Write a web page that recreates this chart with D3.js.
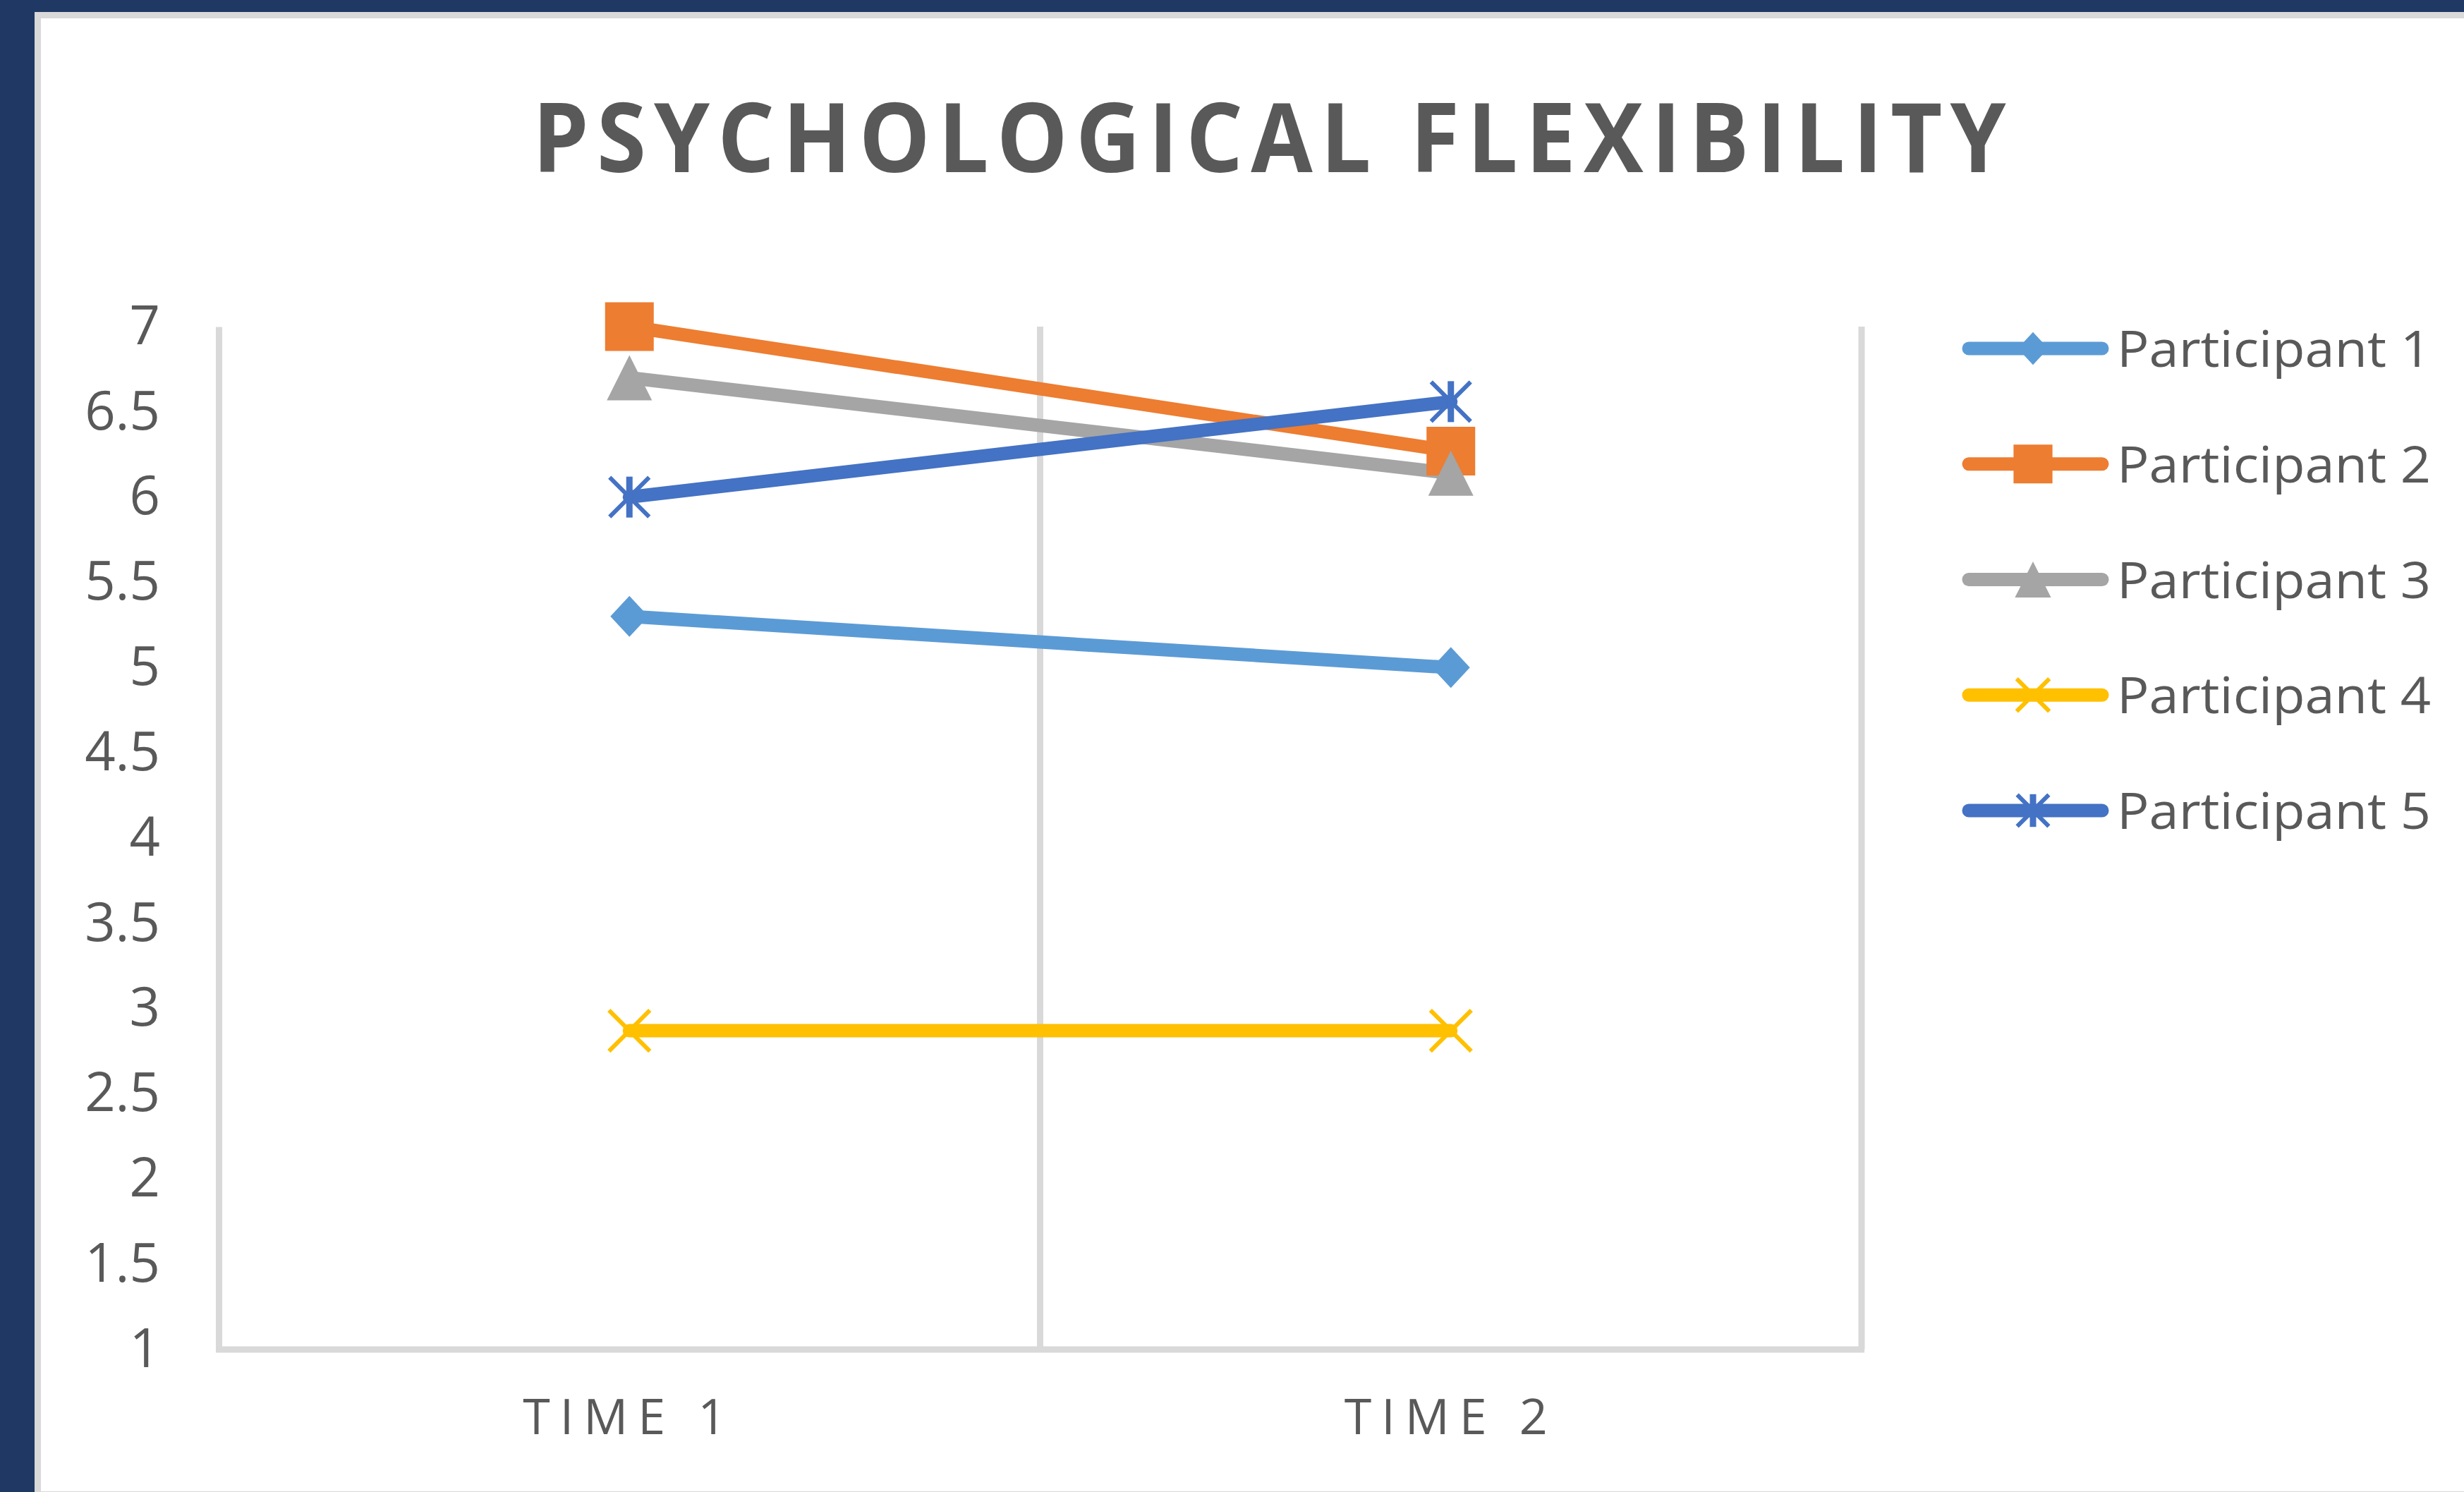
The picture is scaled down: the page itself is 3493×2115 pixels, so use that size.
<!DOCTYPE html>
<html>
<head>
<meta charset="utf-8">
<script src="https://cdn.jsdelivr.net/npm/d3@7"></script>
<style>
  html, body { margin: 0; padding: 0; background: #1f3864; overflow: hidden; }
  text { font-family: "Open Sans", "DejaVu Sans", sans-serif; fill: #595959; }
</style>
</head>
<body>
<svg id="chart" width="3493" height="2115"></svg>
<script>
// chart values
const times = ["TIME 1", "TIME 2"];
const participants = ["Participant 1", "Participant 2", "Participant 3", "Participant 4", "Participant 5"];
const p1 = [5.3, 5.0];
const p2 = [7.0, 6.27];
const p3 = [6.7, 6.14];
const p4 = [2.87, 2.87];
const p5 = [6.0, 6.56];
const yTicks = [1, 1.5, 2, 2.5, 3, 3.5, 4, 4.5, 5, 5.5, 6, 6.5, 7];
const colors = ["#5b9bd5", "#ed7d31", "#a5a5a5", "#ffc000", "#4472c4"];
const shapes = ["diamond", "square", "triangle", "x", "star"];

const series = participants.map((name, i) => ({
  name: name,
  color: colors[i],
  shape: shapes[i],
  values: [p1, p2, p3, p4, p5][i].map((v, j) => ({ time: times[j], value: v }))
}));

const svg = d3.select("#chart");
const grid = "#d9d9d9";

// card with grey border
svg.append("rect")
  .attr("x", 53.5).attr("y", 21.5)
  .attr("width", 3500).attr("height", 2097)
  .attr("fill", "#ffffff")
  .attr("stroke", grid).attr("stroke-width", 9);

// title
svg.append("text")
  .attr("x", 1805).attr("y", 244)
  .attr("text-anchor", "middle")
  .attr("font-size", 136)
  .attr("font-weight", "bold")
  .attr("letter-spacing", 12)
  .attr("textLength", 2100)
  .attr("lengthAdjust", "spacingAndGlyphs")
  .text("PSYCHOLOGICAL FLEXIBILITY");

// scales
const plotLeft = 310, plotTop = 463, plotBottom = 1913;
const x = d3.scaleBand().domain(times).range([plotLeft, 2639]).padding(0);
const y = d3.scaleLinear().domain([1, 7]).range([plotBottom, plotTop]);
const cx = d => x(d) + x.bandwidth() / 2;

// vertical gridlines at category boundaries
const gx = times.slice(1).map(t => x(t)).concat([x.range()[1]]);
svg.append("g").selectAll("line")
  .data(gx).join("line")
  .attr("x1", d => d).attr("x2", d => d)
  .attr("y1", plotTop).attr("y2", plotBottom)
  .attr("stroke", grid).attr("stroke-width", 9);

// bottom axis line
svg.append("line")
  .attr("x1", plotLeft - 4).attr("x2", x.range()[1] + 4)
  .attr("y1", plotBottom).attr("y2", plotBottom)
  .attr("stroke", grid).attr("stroke-width", 9);

// y axis
const yAxis = svg.append("g")
  .attr("transform", `translate(${plotLeft},0)`)
  .call(d3.axisLeft(y).tickValues(yTicks).tickSize(0).tickSizeOuter(0).tickPadding(83)
        .tickFormat(d => String(d)));
yAxis.select(".domain").attr("stroke", grid).attr("stroke-width", 9);
yAxis.selectAll("text")
  .attr("font-size", 76)
  .attr("font-family", "Open Sans")
  .attr("fill", "#595959");

// x labels
svg.append("g").selectAll("text")
  .data(times).join("text")
  .attr("x", d => cx(d))
  .attr("y", 2033)
  .attr("text-anchor", "middle")
  .attr("font-size", 70)
  .attr("letter-spacing", 14)
  .text(d => d);

// marker shapes
function marker(sel, shape, color, s) {
  if (shape === "diamond") {
    sel.append("path").attr("d", `M0,${-29*s}L${27*s},0L0,${29*s}L${-27*s},0Z`).attr("fill", color);
  } else if (shape === "square") {
    sel.append("path").attr("d", d3.symbol(d3.symbolSquare, (69*s) * (69*s))()).attr("fill", color);
  } else if (shape === "triangle") {
    sel.append("path").attr("d", `M0,${-32*s}L${32*s},${32*s}L${-32*s},${32*s}Z`).attr("fill", color);
  } else if (shape === "x") {
    sel.append("path").attr("d", `M${-29*s},${-29*s}L${29*s},${29*s}M${29*s},${-29*s}L${-29*s},${29*s}`)
      .attr("stroke", color).attr("stroke-width", 6).attr("fill", "none");
  } else {
    sel.append("path").attr("d", `M${-28*s},${-28*s}L${28*s},${28*s}M${28*s},${-28*s}L${-28*s},${28*s}`)
      .attr("stroke", color).attr("stroke-width", 6).attr("fill", "none");
    sel.append("path").attr("d", `M0,${-29*s}L0,${29*s}`)
      .attr("stroke", color).attr("stroke-width", 9).attr("fill", "none");
  }
}

// lines
const line = d3.line().x(d => cx(d.time)).y(d => y(d.value));
const lines = svg.append("g");
series.forEach(s => {
  lines.append("path")
    .datum(s.values)
    .attr("d", line)
    .attr("fill", "none")
    .attr("stroke", s.color)
    .attr("stroke-width", 19)
    .attr("stroke-linecap", "round");
});
series.forEach(s => {
  s.values.forEach(v => {
    const g = svg.append("g").attr("transform", `translate(${cx(v.time)},${y(v.value)})`);
    marker(g, s.shape, s.color, 1);
  });
});

// legend
const legY = d3.scalePoint().domain(participants).range([494, 1149]);
const leg = svg.append("g").selectAll("g")
  .data(series).join("g")
  .attr("transform", d => `translate(0,${legY(d.name)})`);
leg.append("line")
  .attr("x1", 2791).attr("x2", 2980)
  .attr("y1", 0).attr("y2", 0)
  .attr("stroke", d => d.color)
  .attr("stroke-width", 19)
  .attr("stroke-linecap", "round");
leg.each(function(d) {
  const g = d3.select(this).append("g").attr("transform", "translate(2882,0)");
  marker(g, d.shape, d.color, 0.8);
});
leg.append("text")
  .attr("x", 3001).attr("y", 26)
  .attr("font-size", 72)
  .attr("textLength", 445)
  .attr("lengthAdjust", "spacingAndGlyphs")
  .text(d => d.name);
</script>
</body>
</html>
